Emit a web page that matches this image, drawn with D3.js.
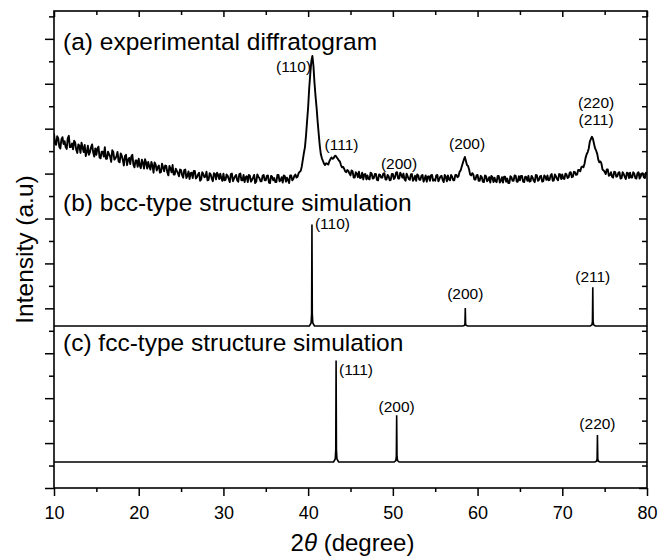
<!DOCTYPE html>
<html>
<head>
<meta charset="utf-8">
<script src="https://cdn.jsdelivr.net/npm/d3@7"></script>
<style>
  body { margin: 0; background: #fff; }
  text { font-family: "Liberation Sans", Arial, sans-serif; fill: #000; }
</style>
</head>
<body>
<svg id="chart"></svg>
<script>
// x range and tick values
const xDomain = [10, 80];
const xMajorTicks = [10, 20, 30, 40, 50, 60, 70, 80];
const xMinorTicks = [15, 25, 35, 45, 55, 65, 75];
const yDomain = [0, 10.62];

// experimental diffratogram, counts every 0.125 deg starting at 10 deg
const expStart = 10, expStep = 0.125;
const expCounts = [
  // 10 - 14.875
  189,167,164,183,179,160,156,176,181,166, 172,159,155,179,184,159,159,167,154,173,
  169,153,146,165,162,146,169,158,148,164, 139,148,162,142,148,159,165,147,138,156,
  // 15 - 19.875
  142,156,160,136,134,149,149,138,159,133, 133,149,143,138,126,152,148,131,134,139,
  148,127,125,145,140,130,118,139,142,119, 131,135,121,138,142,120,114,129,129,115,
  // 20 - 24.875
  133,118,112,131,124,111,132,124,111,126, 116,109,126,118,102,125,120,107,114,118,
  102,103,122,114,105,118,117,103,96,117, 111,103,119,98,98,111,106,101,94,109,
  // 25 - 29.875
  108,96,91,108,109,90,95,105,88,101, 102,90,106,106,89,92,98,102,84,87,
  103,99,92,93,104,85,86,101,98,89, 83,101,99,87,102,97,88,100,90,84,
  // 30 - 34.875
  100,85,86,98,95,88,81,99,100,83, 89,94,97,85,82,99,100,85,85,97,
  81,92,94,81,97,95,82,86,91,97, 79,82,98,93,90,83,83,95,97,85,
  // 35 - 39.875
  85,95,96,80,79,95,93,85,90,81, 81,97,97,83,85,92,80,96,94,82,
  91,86,79,96,96,85,88,95,98,91, 93,101,104,106,116,131,146,159,185,217,
  // 40 - 44.875
  248,290,322,350,362,340,302,272,246,215, 188,162,143,134,128,122,119,123,122,120,
  127,132,136,133,134,139,140,136,133,129, 127,119,114,115,111,105,103,108,106,100,
  // 45 - 49.875
  96,107,105,91,91,103,100,92,104,90, 91,102,87,98,99,87,96,88,87,102,
  100,89,90,99,99,86,85,98,97,91, 91,100,101,87,87,97,94,85,86,99,
  // 50 - 54.875
  99,88,91,102,103,89,89,102,97,91, 100,87,84,100,94,88,86,98,99,84,
  88,95,84,98,96,86,86,95,97,82, 88,96,82,93,94,84,96,97,84,87,
  // 55 - 59.875
  84,96,97,83,88,94,95,86,81,97, 93,83,96,87,85,97,93,85,85,97,
  97,92,94,104,107,115,123,131,137,128, 119,117,109,98,96,101,98,87,87,96,
  // 60 - 64.875
  97,84,84,95,92,82,81,96,94,83, 86,92,80,95,92,81,91,83,81,95,
  95,80,84,92,80,93,93,82,89,79, 79,94,92,84,84,96,95,82,82,94,
  // 65 - 69.875
  85,95,95,82,81,93,92,84,95,82, 83,95,91,84,81,97,96,84,86,94,
  95,82,83,96,93,86,96,85,86,96, 99,84,85,98,94,88,85,99,98,88,
  // 70 - 74.875
  98,89,88,100,98,90,92,102,103,92, 93,104,103,97,98,108,108,105,114,116,
  114,122,135,143,148,156,171,177,182,177, 166,156,151,144,131,125,127,122,109,107,
  // 75 - 80
  104,99,109,109,95,97,103,93,91,104, 103,93,94,102,103,89,90,103,99,93,
  88,102,101,90,102,91,91,103,100,90, 89,101,103,89,93,100,101,92,90,102,
  99
];

// simulated peaks: position (deg) and relative intensity (%)
const bccHkl = ["(110)", "(200)", "(211)"];
const bccPos = [40.45, 58.55, 73.6];
const bccRel = [100, 17.6, 38];
const fccHkl = ["(111)", "(200)", "(220)"];
const fccPos = [43.3, 50.45, 74.15];
const fccRel = [100, 46, 26.5];
// narrow peak shape used for the simulations: [offset deg, fraction of height]
const stickProfile = [[-0.3, 0], [-0.1, 0.03], [-0.04, 0.12], [0, 1], [0.04, 0.12], [0.1, 0.03], [0.3, 0]];

// vertical stacking of the three traces (y axis units)
const expOffset = 6.0, expUnit = 0.01;
const bccBase = 3.608, fccBase = 0.579, simUnit = 0.0226;

// peak labels for the experimental trace: text, 2theta, y, anchor
const expLabels = [
  ["(110)", 40.35, 9.265, "end"],
  ["(111)", 43.94, 7.53, "middle"],
  ["(200)", 50.73, 7.10, "middle"],
  ["(200)", 58.76, 7.55, "middle"],
  ["(220)", 73.99, 8.463, "middle"],
  ["(211)", 73.99, 8.085, "middle"]
];
const bccLabelY = [5.77, 4.21, 4.59];
const fccLabelY = [2.52, 1.69, 1.31];
const panelTitles = ["(a) experimental diffratogram", "(b) bcc-type structure simulation", "(c) fcc-type structure simulation"];
const panelTitleY = [9.745, 6.173, 3.055];

const W = 659, H = 558;
const margin = { left: 54, right: 12, top: 11, bottom: 70 };
const svg = d3.select("#chart").attr("width", W).attr("height", H);

const x = d3.scaleLinear().domain(xDomain).range([margin.left, W - margin.right]);
const y = d3.scaleLinear().domain(yDomain).range([H - margin.bottom, margin.top]);

svg.append("defs").append("clipPath").attr("id", "plotClip")
  .append("rect")
  .attr("x", x.range()[0]).attr("y", y.range()[1])
  .attr("width", x.range()[1] - x.range()[0])
  .attr("height", y.range()[0] - y.range()[1]);

const line = d3.line().x(d => x(d[0])).y(d => y(d[1]));

// experimental trace
const expData = expCounts.map((c, i) => [expStart + i * expStep, expOffset + c * expUnit]);

function simSeries(pos, rel, base) {
  const pts = [[xDomain[0], base]];
  pos.forEach((p, i) => {
    stickProfile.forEach(s => pts.push([p + s[0], base + rel[i] * simUnit * s[1]]));
  });
  pts.push([xDomain[1], base]);
  return pts;
}

const plot = svg.append("g").attr("clip-path", "url(#plotClip)");
plot.append("path").datum(expData)
  .attr("d", line).attr("fill", "none").attr("stroke", "#000")
  .attr("stroke-width", 1.9).attr("stroke-linejoin", "round");
plot.append("path").datum(simSeries(bccPos, bccRel, bccBase))
  .attr("d", line).attr("fill", "none").attr("stroke", "#000").attr("stroke-width", 1.6);
plot.append("path").datum(simSeries(fccPos, fccRel, fccBase))
  .attr("d", line).attr("fill", "none").attr("stroke", "#000").attr("stroke-width", 1.6);

// axes
function styleAxis(g) {
  g.select(".domain").remove();
  g.selectAll(".tick line").attr("stroke", "#000").attr("stroke-width", 1.5);
}
const bottomY = y.range()[0], topY = y.range()[1];
const leftX = x.range()[0], rightX = x.range()[1];

svg.append("g").attr("transform", `translate(0,${bottomY})`)
  .call(d3.axisBottom(x).tickValues(xMajorTicks).tickSize(8).tickPadding(10).tickFormat(d3.format("d")))
  .call(styleAxis)
  .call(g => g.selectAll("text").style("font-size", "18px").style("font-family", "'Liberation Sans', Arial, sans-serif").attr("fill", "#000"));
svg.append("g").attr("transform", `translate(0,${bottomY})`)
  .call(d3.axisBottom(x).tickValues(xMinorTicks).tickSize(4).tickFormat(""))
  .call(styleAxis);
svg.append("g").attr("transform", `translate(0,${topY})`)
  .call(d3.axisBottom(x).tickValues(xMajorTicks).tickSize(6).tickFormat(""))
  .call(styleAxis);
svg.append("g").attr("transform", `translate(0,${topY})`)
  .call(d3.axisBottom(x).tickValues(xMinorTicks).tickSize(4).tickFormat(""))
  .call(styleAxis);

const yMajor = d3.range(0, 11, 1);
const yMinor = d3.range(0.5, 10.6, 1);
svg.append("g").attr("transform", `translate(${leftX},0)`)
  .call(d3.axisLeft(y).tickValues(yMajor).tickSize(9).tickFormat(""))
  .call(styleAxis);
svg.append("g").attr("transform", `translate(${leftX},0)`)
  .call(d3.axisLeft(y).tickValues(yMinor).tickSize(5).tickFormat(""))
  .call(styleAxis);
svg.append("g").attr("transform", `translate(${rightX},0)`)
  .call(d3.axisLeft(y).tickValues(yMajor).tickSize(8).tickFormat(""))
  .call(styleAxis);
svg.append("g").attr("transform", `translate(${rightX},0)`)
  .call(d3.axisLeft(y).tickValues(yMinor).tickSize(5).tickFormat(""))
  .call(styleAxis);

// frame
svg.append("rect")
  .attr("x", leftX).attr("y", topY)
  .attr("width", rightX - leftX).attr("height", bottomY - topY)
  .attr("fill", "none").attr("stroke", "#000").attr("stroke-width", 1.6);

// panel titles
panelTitles.forEach((t, i) => {
  svg.append("text")
    .attr("x", leftX + 9).attr("y", y(panelTitleY[i]))
    .style("font-size", "24.5px")
    .text(t);
});

// peak labels
expLabels.forEach(l => {
  svg.append("text")
    .attr("x", x(l[1])).attr("y", y(l[2]))
    .attr("text-anchor", l[3])
    .style("font-size", "15.5px")
    .text(l[0]);
});
bccHkl.forEach((h, i) => {
  svg.append("text")
    .attr("x", i === 0 ? x(bccPos[i]) + 3 : x(bccPos[i]))
    .attr("y", y(bccLabelY[i]))
    .attr("text-anchor", i === 0 ? "start" : "middle")
    .style("font-size", "15.5px")
    .text(h);
});
fccHkl.forEach((h, i) => {
  svg.append("text")
    .attr("x", i === 0 ? x(fccPos[i]) + 3 : x(fccPos[i]))
    .attr("y", y(fccLabelY[i]))
    .attr("text-anchor", i === 0 ? "start" : "middle")
    .style("font-size", "15.5px")
    .text(h);
});

// axis titles
const xTitle = svg.append("text")
  .attr("x", (leftX + rightX) / 2 + 2).attr("y", 551)
  .attr("text-anchor", "middle")
  .style("font-size", "24px");
xTitle.append("tspan").text("2");
xTitle.append("tspan").style("font-style", "italic").text("θ");
xTitle.append("tspan").text(" (degree)");

svg.append("text")
  .attr("transform", `translate(33,${(topY + bottomY) / 2}) rotate(-90)`)
  .attr("text-anchor", "middle")
  .style("font-size", "24.5px")
  .text("Intensity (a.u)");
</script>
</body>
</html>
